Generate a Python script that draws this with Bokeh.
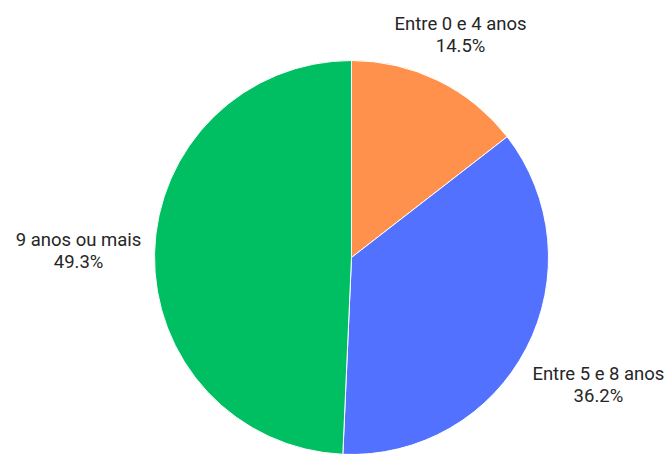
import math
from bokeh.plotting import figure
from bokeh.models import Range1d, ColumnDataSource
from bokeh.core.properties import value
from bokeh.embed import file_html
from bokeh.resources import INLINE

# Data
categories = ["Entre 0 e 4 anos", "Entre 5 e 8 anos", "9 anos ou mais"]
percents = [14.5, 36.2, 49.3]
colors = ["#FF914D", "#5271FF", "#00BF63"]

# Layout (pixel space, y up)
W, H = 670, 454
cx, cy = 351, H - 257
R = 197
label_radius = [248, 278, 273]
line_gap = 22

total = sum(percents)
starts, ends, mids = [], [], []
cum = 0.0
for p in percents:
    a0 = math.pi / 2 - 2 * math.pi * cum / total
    cum += p
    a1 = math.pi / 2 - 2 * math.pi * cum / total
    starts.append(a0)
    ends.append(a1)
    mids.append((a0 + a1) / 2)

src = ColumnDataSource(dict(start=starts, end=ends, color=colors))

p = figure(width=W, height=H, output_backend="svg", toolbar_location=None,
           x_range=Range1d(0, W), y_range=Range1d(0, H), min_border=0)
p.axis.visible = False
p.grid.visible = False
p.outline_line_color = None
p.background_fill_color = "white"
p.border_fill_color = "white"

p.wedge(x=cx, y=cy, radius=R, start_angle="start", end_angle="end",
        direction="clock", fill_color="color", line_color="white",
        line_width=1, source=src)

lx, ly, names, pcts = [], [], [], []
for i, m in enumerate(mids):
    x = cx + label_radius[i] * math.cos(m)
    y = cy + label_radius[i] * math.sin(m)
    lx.append(x)
    ly.append(y)
    names.append(categories[i])
    pcts.append(f"{percents[i]:.1f}%")

tsrc = ColumnDataSource(dict(x=lx, y1=[y + line_gap / 2 for y in ly],
                             y2=[y - line_gap / 2 for y in ly],
                             name=names, pct=pcts))
for col in ("name", "pct"):
    p.text(x="x", y="y1" if col == "name" else "y2", text=col, source=tsrc,
           text_align="center", text_baseline="middle",
           text_font=value("Roboto"), text_font_size="18.5px",
           text_color="#262626")

open("out.html", "w").write(file_html(p, INLINE))
